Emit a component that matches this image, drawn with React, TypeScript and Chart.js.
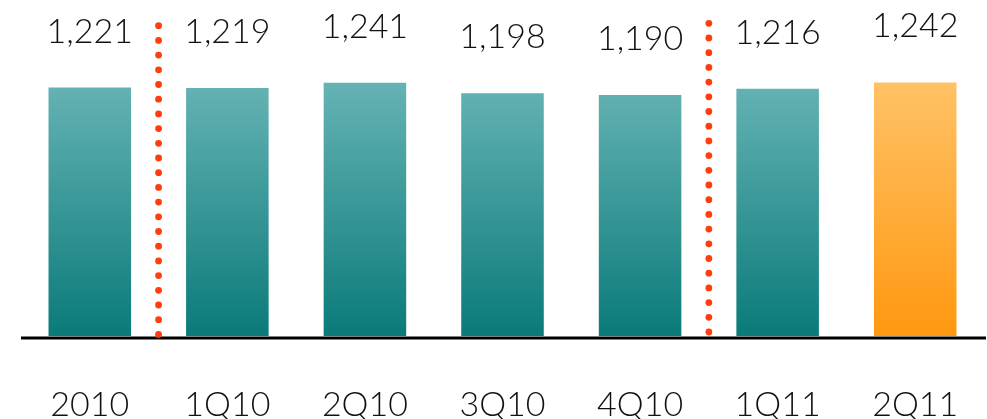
import React, { useEffect, useRef } from "react";
import { Chart, registerables } from "chart.js";

Chart.register(...registerables);

const categories = ["2010", "1Q10", "2Q10", "3Q10", "4Q10", "1Q11", "2Q11"];
const values = [1221, 1219, 1241, 1198, 1190, 1216, 1242];
const highlightIndex = [6];
const dividerAfter = [0, 4];

const FONT = "300 34px Lato";

export default function App() {
  const ref = useRef<HTMLCanvasElement | null>(null);

  useEffect(() => {
    if (!ref.current) return;
    const makeGrad = (ctx: CanvasRenderingContext2D, area: any, top: string, bottom: string) => {
      const g = ctx.createLinearGradient(0, 82, 0, area.bottom);
      g.addColorStop(0, top);
      g.addColorStop(1, bottom);
      return g;
    };

    const overlay = {
      id: "overlay",
      afterDatasetsDraw(chart: any) {
        const ctx = chart.ctx as CanvasRenderingContext2D;
        const xs = chart.scales.x;
        const meta = chart.getDatasetMeta(0);
        ctx.save();
        ctx.strokeStyle = "#000";
        ctx.lineWidth = 3;
        ctx.beginPath();
        ctx.moveTo(21, 338);
        ctx.lineTo(986, 338);
        ctx.stroke();
        ctx.fillStyle = "#FF3D0D";
        dividerAfter.forEach((i, k) => {
          const x = (xs.getPixelForValue(i) + xs.getPixelForValue(i + 1)) / 2;
          const start = k === 0 ? 25.7 : 23.3;
          for (let n = 0; n < 22; n++) {
            const y = start + n * 14.7;
            ctx.beginPath();
            ctx.arc(x, y, 3.4, 0, Math.PI * 2);
            ctx.fill();
          }
        });
        ctx.fillStyle = "#111";
        ctx.font = FONT;
        ctx.textAlign = "center";
        ctx.textBaseline = "alphabetic";
        meta.data.forEach((bar: any, i: number) => {
          ctx.fillText(values[i].toLocaleString("en-US"), bar.x, bar.y - 45);
          ctx.fillText(categories[i], bar.x, 416);
        });
        ctx.restore();
      },
    };

    const chart = new Chart(ref.current, {
      type: "bar",
      data: {
        labels: categories,
        datasets: [
          {
            data: values,
            backgroundColor: (c: any) => {
              const area = c.chart.chartArea;
              if (!area) return "#66B3B3";
              const hi = highlightIndex.includes(c.dataIndex);
              return hi
                ? makeGrad(c.chart.ctx, area, "#FFC266", "#FF9810")
                : makeGrad(c.chart.ctx, area, "#66B3B4", "#0A7B79");
            },
            borderWidth: 0,
            barPercentage: 0.6,
            categoryPercentage: 1,
          },
        ],
      },
      options: {
        responsive: false,
        animation: false,
        layout: { padding: { left: 21, right: 3, top: 10, bottom: 83 } },
        plugins: { legend: { display: false }, tooltip: { enabled: false } },
        scales: {
          x: { display: false },
          y: { display: false, min: 193, max: 1542 },
        },
      },
      plugins: [overlay],
    });
    return () => chart.destroy();
  }, []);

  return (
    <div style={{ position: "fixed", left: 0, top: 0, width: 987, height: 419, background: "#fff" }}>
      <canvas ref={ref} width={987} height={419} style={{ display: "block" }} />
    </div>
  );
}
